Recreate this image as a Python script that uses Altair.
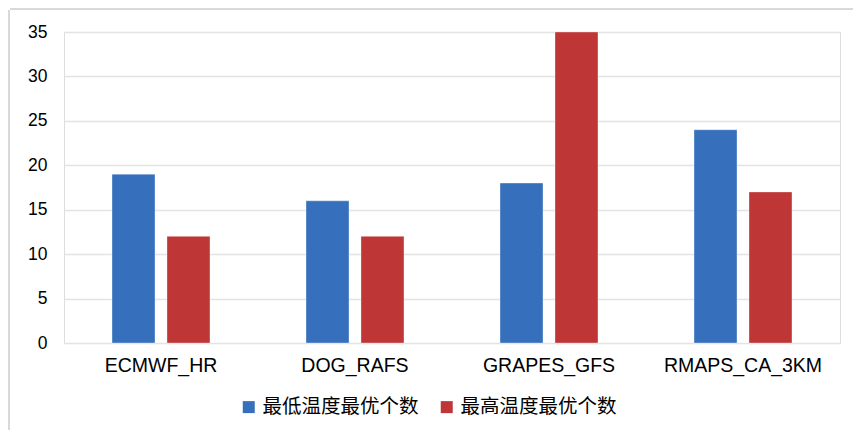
import altair as alt
import pandas as pd

categories = ["ECMWF_HR", "DOG_RAFS", "GRAPES_GFS", "RMAPS_CA_3KM"]
series_names = ["最低温度最优个数", "最高温度最优个数"]
low_values = [19, 16, 18, 24]
high_values = [12, 12, 35, 17]
colors = ["#3670BD", "#BF3636"]

rows = []
for c, lo, hi in zip(categories, low_values, high_values):
    rows.append({"model": c, "series": series_names[0], "value": lo})
    rows.append({"model": c, "series": series_names[1], "value": hi})
df = pd.DataFrame(rows)

FONT = "Liberation Sans"

bars = alt.Chart(df).mark_bar(stroke="#ffffff", strokeOpacity=0.35, strokeWidth=1).encode(
    x=alt.X("model:N", sort=categories,
            scale=alt.Scale(paddingInner=0.495, paddingOuter=0.2475),
            axis=alt.Axis(title=None, labelAngle=0, ticks=False, domain=False,
                          labelFont=FONT, labelFontSize=19.5, labelColor="#000000",
                          labelPadding=13)),
    xOffset=alt.XOffset("series:N", sort=series_names,
                        scale=alt.Scale(paddingInner=0.218, paddingOuter=0)),
    y=alt.Y("value:Q", scale=alt.Scale(domain=[0, 35]),
            axis=alt.Axis(title=None, values=[0, 5, 10, 15, 20, 25, 30, 35],
                          ticks=False, domain=False, gridColor="#e3e3e3", gridWidth=1.5,
                          labelFont=FONT, labelFontSize=17.5, labelColor="#000000",
                          labelPadding=17)),
    color=alt.Color("series:N", sort=series_names,
                    scale=alt.Scale(domain=series_names, range=colors),
                    legend=alt.Legend(title=None, orient="none", direction="horizontal",
                                      legendX=175, legendY=365,
                                      symbolType="square", symbolSize=144,
                                      symbolStrokeWidth=0,
                                      labelFont="Noto Sans CJK SC", labelFontSize=19.5,
                                      labelColor="#000000", columnPadding=18,
                                      labelOffset=4)),
)

frame_src = pd.DataFrame({"d": [0]})
top_edge = alt.Chart(frame_src).mark_rule(
    stroke="#d9d9d9", strokeWidth=2, clip=False
).encode(x=alt.value(-54), x2=alt.value(789), y=alt.value(-23))
left_edge = alt.Chart(frame_src).mark_rule(
    stroke="#d9d9d9", strokeWidth=2, clip=False
).encode(x=alt.value(-55), y=alt.value(-22), y2=alt.value(398))

chart = alt.layer(top_edge, left_edge, bars).properties(
    width=776, height=311,
    padding={"left": 64, "top": 32, "right": 13, "bottom": 87},
    autosize=alt.AutoSizeParams(type="none"),
).configure_view(stroke=None).configure(background="#ffffff")

chart.save("out.html", embed_options={"renderer": "svg", "actions": False})
